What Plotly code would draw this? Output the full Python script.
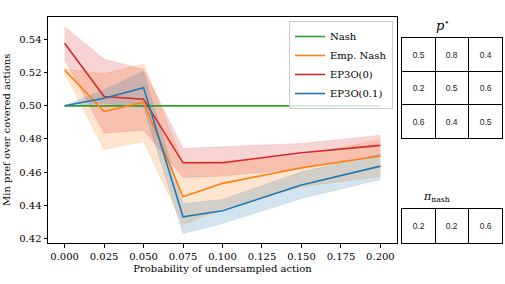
import plotly.graph_objects as go

x_vals = [0.0, 0.025, 0.05, 0.075, 0.1, 0.15, 0.2]

nash = [0.5, 0.5, 0.5, 0.5, 0.5, 0.5, 0.5]

emp_nash = [0.5217, 0.4966, 0.5022, 0.4451, 0.4532, 0.4626, 0.4697]
emp_nash_hi = [0.5225, 0.5193, 0.5253, 0.4660, 0.4665, 0.4700, 0.4797]
emp_nash_lo = [0.5195, 0.4737, 0.4783, 0.4280, 0.4380, 0.4511, 0.4572]

ep3o0 = [0.5378, 0.5056, 0.5040, 0.4656, 0.4656, 0.4717, 0.4761]
ep3o0_hi = [0.5479, 0.5282, 0.5221, 0.4743, 0.4753, 0.4773, 0.4823]
ep3o0_lo = [0.5278, 0.4834, 0.4853, 0.4568, 0.4576, 0.4620, 0.4700]

ep3o01 = [0.5000, 0.5046, 0.5110, 0.4330, 0.4367, 0.4522, 0.4636]
ep3o01_hi = [0.5002, 0.5097, 0.5207, 0.4411, 0.4435, 0.4602, 0.4709]
ep3o01_lo = [0.4998, 0.5016, 0.4990, 0.4230, 0.4290, 0.4441, 0.4556]

y_ticks = [0.42, 0.44, 0.46, 0.48, 0.50, 0.52, 0.54]
x_ticks = [0.0, 0.025, 0.05, 0.075, 0.1, 0.125, 0.15, 0.175, 0.2]

p_star = [["0.5", "0.8", "0.4"],
          ["0.2", "0.5", "0.6"],
          ["0.6", "0.4", "0.5"]]
pi_nash = [["0.2", "0.2", "0.6"]]

GREEN, ORANGE, RED, BLUE = "#2ca02c", "#ff7f0e", "#d62728", "#1f77b4"
FILLS = {ORANGE: "rgba(255,127,14,0.2)", RED: "rgba(214,39,40,0.2)", BLUE: "rgba(31,119,180,0.2)"}
SERIF = "DejaVu Serif"

fig = go.Figure()

series = [("Emp. Nash", emp_nash, emp_nash_lo, emp_nash_hi, ORANGE),
          ("EP3O(0)", ep3o0, ep3o0_lo, ep3o0_hi, RED),
          ("EP3O(0.1)", ep3o01, ep3o01_lo, ep3o01_hi, BLUE)]

for name, mid, lo, hi, col in series:
    fig.add_trace(go.Scatter(x=x_vals, y=hi, mode="lines", line=dict(width=0.6, color=FILLS[col]),
                             showlegend=False, hoverinfo="skip"))
    fig.add_trace(go.Scatter(x=x_vals, y=lo, mode="lines", line=dict(width=0.6, color=FILLS[col]),
                             fill="tonexty", fillcolor=FILLS[col], showlegend=False, hoverinfo="skip"))

fig.add_trace(go.Scatter(x=x_vals, y=nash, mode="lines", name="Nash", line=dict(color=GREEN, width=1.6)))
for name, mid, lo, hi, col in series:
    fig.add_trace(go.Scatter(x=x_vals, y=mid, mode="lines", name=name, line=dict(color=col, width=1.6)))

transparent = [[0, "rgba(255,255,255,0)"], [1, "rgba(255,255,255,0)"]]
fig.add_trace(go.Heatmap(z=[[0, 0, 0]] * 3, text=p_star, texttemplate="%{text}",
                         textfont=dict(family="Liberation Sans", size=8.5, color="#222"),
                         colorscale=transparent, showscale=False, hoverinfo="skip",
                         xaxis="x2", yaxis="y2"))
fig.add_trace(go.Heatmap(z=[[0, 0, 0]], text=pi_nash, texttemplate="%{text}",
                         textfont=dict(family="Liberation Sans", size=8.5, color="#222"),
                         colorscale=transparent, showscale=False, hoverinfo="skip",
                         xaxis="x3", yaxis="y3"))

W, H = 505, 284
main_x = [48 / W, 397 / W]
main_y = [1 - 243 / H, 1 - 16.7 / H]
tab_x = [401.7 / W, 502.3 / W]

axis_common = dict(showline=True, linecolor="black", linewidth=1, mirror=True, ticks="outside",
                   ticklen=3.5, tickwidth=0.8, tickcolor="black", showgrid=False, zeroline=False,
                   automargin=False, tickfont=dict(family=SERIF, size=10, color="black"))

table_axis = dict(showline=True, linecolor="black", linewidth=1, mirror=True, showgrid=True,
                  gridcolor="black", gridwidth=1, zeroline=False, showticklabels=False, ticks="",
                  automargin=False)

fig.update_layout(
    width=W, height=H, margin=dict(l=0, r=0, t=0, b=0, autoexpand=False),
    paper_bgcolor="white", plot_bgcolor="white",
    font=dict(family=SERIF, size=10, color="black"),
    xaxis=dict(domain=main_x, range=[-0.0105, 0.2105], tickvals=x_ticks, tickformat=".3f",
               title=dict(text="Probability of undersampled action", standoff=4,
                          font=dict(family=SERIF, size=10)), **axis_common),
    yaxis=dict(domain=main_y, range=[0.4172, 0.5538], tickvals=y_ticks, tickformat=".2f",
               title=dict(text="Min pref over covered actions", standoff=6,
                          font=dict(family=SERIF, size=10)), **axis_common),
    xaxis2=dict(domain=tab_x, range=[-0.5, 2.5], tickvals=[0.5, 1.5], anchor="y2", **table_axis),
    yaxis2=dict(domain=[1 - 138.3 / H, 1 - 37.7 / H], range=[2.5, -0.5], tickvals=[0.5, 1.5],
                anchor="x2", **table_axis),
    xaxis3=dict(domain=tab_x, range=[-0.5, 2.5], tickvals=[0.5, 1.5], anchor="y3", **table_axis),
    yaxis3=dict(domain=[1 - 242.7 / H, 1 - 209.3 / H], range=[0.5, -0.5], tickvals=[],
                anchor="x3", **table_axis),
    legend=dict(x=393 / W, xanchor="right", y=1 - 21 / H, yanchor="top", traceorder="normal",
                bgcolor="rgba(255,255,255,0.8)", bordercolor="#cccccc", borderwidth=1,
                font=dict(family=SERIF, size=10), tracegroupgap=0, itemwidth=30),
    annotations=[
        dict(text="<i>p</i><sup>⋆</sup>", x=(tab_x[0] + tab_x[1]) / 2, y=1 - 35 / H,
             yanchor="bottom", xref="paper", yref="paper", showarrow=False,
             font=dict(family=SERIF, size=13)),
        dict(text="<i>π</i><sub>nash</sub>", x=(tab_x[0] + tab_x[1]) / 2, y=1 - 206 / H,
             yanchor="bottom", xref="paper", yref="paper", showarrow=False,
             font=dict(family=SERIF, size=11)),
    ],
)

fig.write_html("out.html", post_script="document.body.style.margin='0';",
               config={"displayModeBar": False})
